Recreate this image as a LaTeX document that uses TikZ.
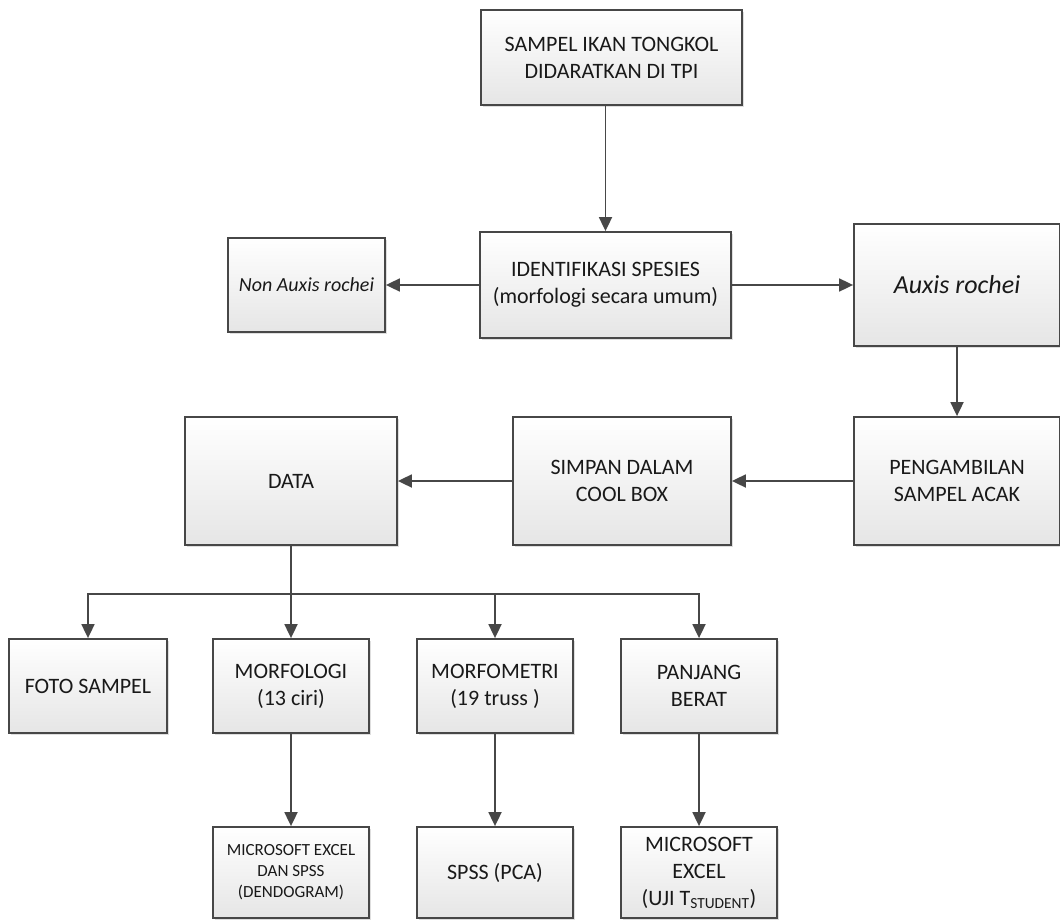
\documentclass[tikz,border=0pt]{standalone}
\usepackage{fontspec}
\setmainfont{Carlito}
\usepackage{tikz}
\usetikzlibrary{shadows, positioning, arrows.meta, calc}
\colorlet{boxLine}{black!72}
\colorlet{boxText}{black!90}
\tikzstyle{flowBox}=[draw=boxLine, line width=1.8pt, top color=white,
  bottom color=black!10, align=center, text=boxText, inner sep=2pt,
  drop shadow={shadow xshift=2pt, shadow yshift=-2pt, fill=black!25, opacity=0.5},
  font=\fontsize{22}{27}\selectfont]
\tikzstyle{smallBox}=[flowBox, font=\fontsize{17}{21}\selectfont]
\tikzstyle{flowLine}=[line width=1.8pt, draw=boxLine]
\tikzstyle{arrow}=[flowLine, -{Triangle[length=14pt, width=13pt]}]

\begin{document}
\begin{tikzpicture}[x=1pt, y=-1pt]
      \fill[white] (0,0) rectangle (1060,920);
      \useasboundingbox (0,0) rectangle (1060,920);

      % upper part
      \node[flowBox, minimum width=261pt, minimum height=95pt] (top) at (611.5,57.5)
        {SAMPEL IKAN TONGKOL\\DIDARATKAN DI TPI};
      \node[flowBox, minimum width=251pt, minimum height=106pt] (ident) at (605.5,285)
        {IDENTIFIKASI SPESIES\\(morfologi secara umum)};
      \node[flowBox, minimum width=157pt, minimum height=94pt,
        font=\fontsize{20}{24}\selectfont\itshape] (nonaux) at (306.5,285) {Non Auxis rochei};
      \node[flowBox, minimum width=206pt, minimum height=122pt,
        font=\fontsize{26}{31}\selectfont\itshape] (auxis) at (957,285) {Auxis rochei};

      \node[flowBox, minimum width=206pt, minimum height=128pt] (peng) at (957,481)
        {PENGAMBILAN\\SAMPEL ACAK};
      \node[flowBox, minimum width=218pt, minimum height=128pt] (simpan) at (622,481)
        {SIMPAN DALAM\\COOL BOX};
      \node[flowBox, minimum width=212pt, minimum height=128pt] (data) at (291,481) {DATA};

      % data branches
      \node[flowBox, minimum width=158pt, minimum height=94pt] (foto) at (88,686) {FOTO SAMPEL};
      \node[flowBox, minimum width=156pt, minimum height=94pt] (morfo) at (291,686)
        {MORFOLOGI\\(13 ciri)};
      \node[flowBox, minimum width=156pt, minimum height=94pt] (metri) at (495,686)
        {MORFOMETRI\\(19 truss )};
      \node[flowBox, minimum width=156pt, minimum height=94pt] (pb) at (699,686)
        {PANJANG\\BERAT};

      \node[smallBox, minimum width=156pt, minimum height=91pt] (dendo) at (291,872.5)
        {MICROSOFT EXCEL\\DAN SPSS\\(DENDOGRAM)};
      \node[flowBox, minimum width=156pt, minimum height=91pt] (pca) at (495,872.5)
        {SPSS (PCA)};
      \node[flowBox, minimum width=156pt, minimum height=91pt] (uji) at (699,872.5)
        {MICROSOFT\\EXCEL\\(UJI T\textsubscript{STUDENT})};

      % connectors
      \draw[arrow] (top.south -| ident) -- (ident);
      \draw[arrow] (ident) -- (nonaux);
      \draw[arrow] (ident) -- (auxis);
      \draw[arrow] (auxis) -- (peng);
      \draw[arrow] (peng) -- (simpan);
      \draw[arrow] (simpan) -- (data);

      \coordinate (bus) at (291,594);
      \draw[flowLine] (data) -- (bus);
      \foreach \n in {foto, morfo, metri, pb}
      \draw[arrow] (bus) -| (\n);
      \foreach \a/\b in {morfo/dendo, metri/pca, pb/uji}
      \draw[arrow] (\a) -- (\b);
    \end{tikzpicture}
\end{document}
